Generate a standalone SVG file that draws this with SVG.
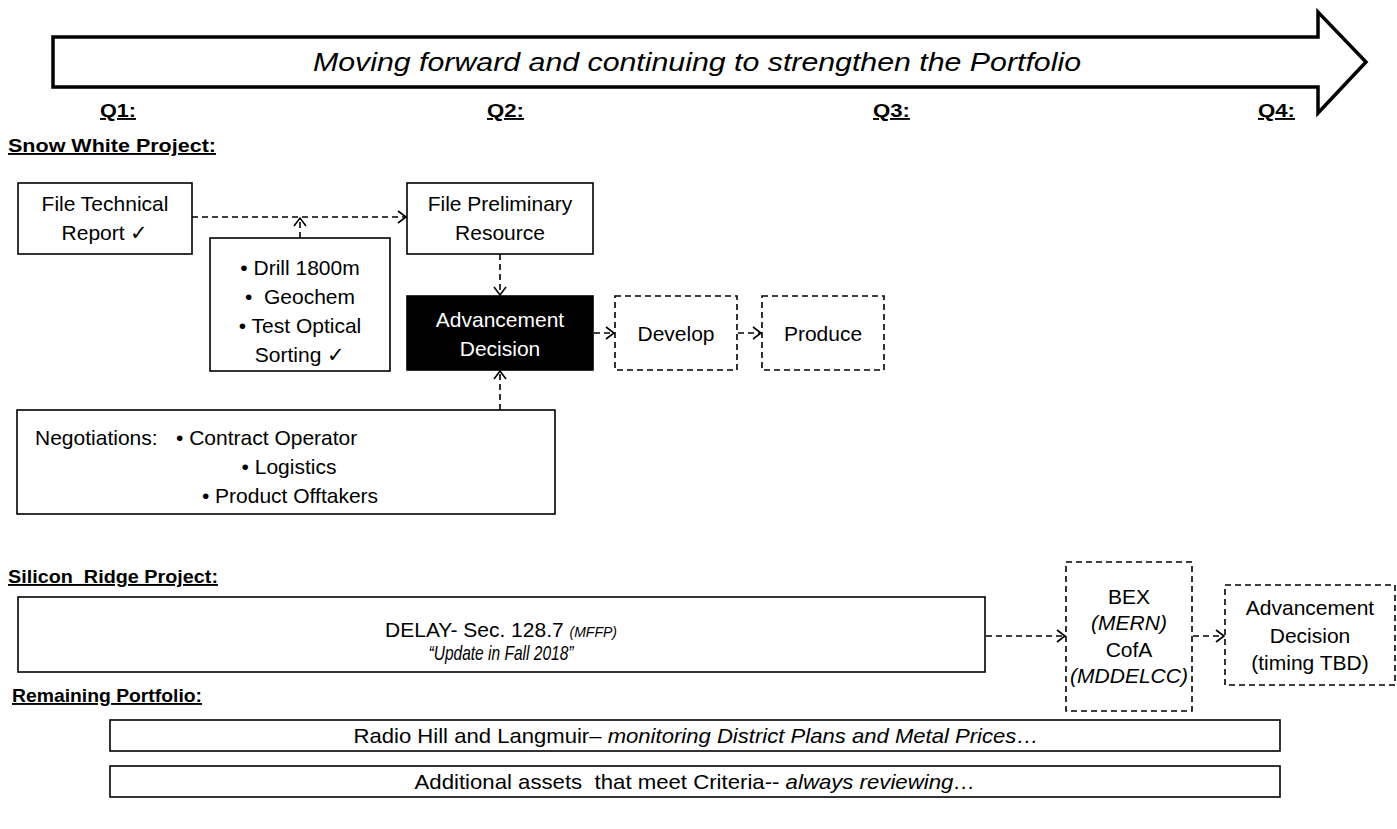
<svg xmlns="http://www.w3.org/2000/svg" width="1397" height="829" viewBox="0 0 1397 829">
<style>
text{font-family:"Liberation Sans",Arial,sans-serif;fill:#000;white-space:pre}
.b{fill:#fff;stroke:#000;stroke-width:1.6}
.d{fill:#fff;stroke:#000;stroke-width:1.6;stroke-dasharray:6 4}
.t{font-size:21px;text-anchor:middle}
.h{font-size:19px;font-weight:bold;text-decoration:underline}
.c{fill:none;stroke:#000;stroke-width:1.6;stroke-dasharray:6 4}
.i{font-style:italic}
.w{fill:#fff}
</style>
<defs>
<marker id="ah" markerWidth="12" markerHeight="14" refX="10" refY="7" orient="auto" markerUnits="userSpaceOnUse">
<path d="M2,1 L10,7 L2,13" fill="none" stroke="#000" stroke-width="1.6"/>
</marker>
</defs>
<rect width="1397" height="829" fill="#fff"/>

<g id="timeline">
<path d="M53,37 L1318,37 L1318,12 L1366,62 L1318,113 L1318,87 L53,87 Z" fill="#fff" stroke="#000" stroke-width="3.5"/>
<text x="697" y="71" font-size="25" font-style="italic" text-anchor="middle" textLength="768" lengthAdjust="spacingAndGlyphs">Moving forward and continuing to strengthen the Portfolio</text>
<text class="h" x="100" y="117" textLength="36" lengthAdjust="spacingAndGlyphs">Q1:</text>
<text class="h" x="487" y="117" textLength="37" lengthAdjust="spacingAndGlyphs">Q2:</text>
<text class="h" x="873" y="117" textLength="37" lengthAdjust="spacingAndGlyphs">Q3:</text>
<text class="h" x="1258" y="117" textLength="37" lengthAdjust="spacingAndGlyphs">Q4:</text>
</g>

<text id="h-snow" class="h" x="8" y="152" textLength="208" lengthAdjust="spacingAndGlyphs">Snow White Project:</text>
<text id="h-silicon" class="h" x="8" y="583" textLength="210" lengthAdjust="spacingAndGlyphs">Silicon  Ridge Project:</text>
<text id="h-remaining" class="h" x="12" y="702" textLength="190" lengthAdjust="spacingAndGlyphs">Remaining Portfolio:</text>

<g id="connectors">
<line class="c" x1="192" y1="217" x2="406" y2="217" marker-end="url(#ah)"/>
<line class="c" x1="300" y1="238" x2="300" y2="218" marker-end="url(#ah)"/>
<line class="c" x1="500" y1="254" x2="500" y2="295" marker-end="url(#ah)"/>
<line class="c" x1="594" y1="333" x2="614" y2="333" marker-end="url(#ah)"/>
<line class="c" x1="738" y1="333" x2="761" y2="333" marker-end="url(#ah)"/>
<line class="c" x1="500" y1="410" x2="500" y2="371" marker-end="url(#ah)"/>
<line class="c" x1="986" y1="636" x2="1065" y2="636" marker-end="url(#ah)"/>
<line class="c" x1="1193" y1="636" x2="1224" y2="636" marker-end="url(#ah)"/>
</g>

<g id="n-tech">
<rect class="b" x="18" y="183" width="174" height="71"/>
<text class="t" x="105" y="211">File Technical</text>
<text class="t" x="105" y="240">Report ✓</text>
</g>
<g id="n-drill">
<rect class="b" x="210" y="238" width="180" height="133"/>
<text class="t" x="300" y="275">• Drill 1800m</text>
<text class="t" x="300" y="304">•  Geochem</text>
<text class="t" x="300" y="333">• Test Optical</text>
<text class="t" x="300" y="362">Sorting ✓</text>
</g>
<g id="n-prelim">
<rect class="b" x="407" y="183" width="186" height="71"/>
<text class="t" x="500" y="211">File Preliminary</text>
<text class="t" x="500" y="240">Resource</text>
</g>
<g id="n-adv">
<rect x="407" y="296" width="186" height="74" fill="#000" stroke="#000" stroke-width="1.6"/>
<text class="t w" x="500" y="327">Advancement</text>
<text class="t w" x="500" y="356">Decision</text>
</g>
<g id="n-develop">
<rect class="d" x="615" y="296" width="122" height="74"/>
<text class="t" x="676" y="341">Develop</text>
</g>
<g id="n-produce">
<rect class="d" x="762" y="296" width="122" height="74"/>
<text class="t" x="823" y="341">Produce</text>
</g>
<g id="n-negotiations">
<rect class="b" x="17" y="410" width="538" height="104"/>
<text x="35" y="445" font-size="21">Negotiations:</text>
<text x="176" y="445" font-size="21">• Contract Operator</text>
<text class="t" x="289" y="474">• Logistics</text>
<text class="t" x="290" y="503">• Product Offtakers</text>
</g>

<g id="n-delay">
<rect class="b" x="18" y="597" width="967" height="75"/>
<text class="t" x="501" y="637" font-size="19">DELAY- Sec. 128.7 <tspan class="i" font-size="14">(MFFP)</tspan></text>
<text class="t i" x="501" y="660" font-size="14" textLength="145" lengthAdjust="spacingAndGlyphs">“Update in Fall 2018”</text>
</g>
<g id="n-bex">
<rect class="d" x="1066" y="562" width="126" height="149"/>
<text class="t" x="1129" y="604">BEX</text>
<text class="t i" x="1129" y="630" font-size="17">(MERN)</text>
<text class="t" x="1129" y="657">CofA</text>
<text class="t i" x="1129" y="683" font-size="17">(MDDELCC)</text>
</g>
<g id="n-adv2">
<rect class="d" x="1225" y="585" width="170" height="100"/>
<text class="t" x="1310" y="615">Advancement</text>
<text class="t" x="1310" y="643">Decision</text>
<text class="t" x="1310" y="670">(timing TBD)</text>
</g>

<g id="n-radio">
<rect class="b" x="110" y="720" width="1170" height="31"/>
<text class="t" x="696" y="743" font-size="20" textLength="685" lengthAdjust="spacingAndGlyphs">Radio Hill and Langmuir– <tspan class="i">monitoring District Plans and Metal Prices…</tspan></text>
</g>
<g id="n-additional">
<rect class="b" x="110" y="766" width="1170" height="31"/>
<text class="t" x="695" y="789" font-size="20" textLength="561" lengthAdjust="spacingAndGlyphs">Additional assets  that meet Criteria-- <tspan class="i">always reviewing…</tspan></text>
</g>
</svg>
